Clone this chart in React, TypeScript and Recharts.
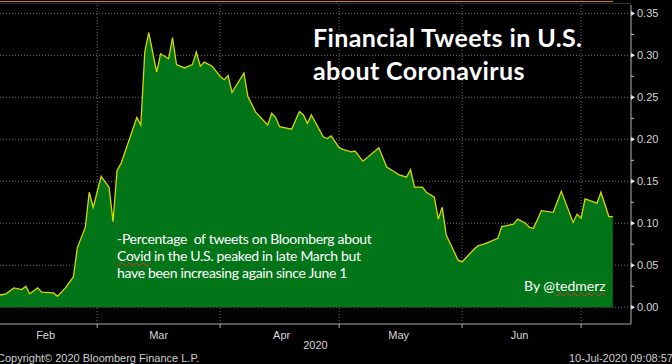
import React from 'react'
import { AreaChart, Area, XAxis, YAxis, CartesianGrid, Label } from 'recharts'

// daily readings (share of financial tweets mentioning Covid)
const dates = [
  '2020-02-05', '2020-02-07', '2020-02-09', '2020-02-11', '2020-02-12', '2020-02-13',
  '2020-02-15', '2020-02-16', '2020-02-19', '2020-02-20', '2020-02-22', '2020-02-24',
  '2020-02-25', '2020-02-27', '2020-02-28', '2020-02-29', '2020-03-02', '2020-03-04',
  '2020-03-05', '2020-03-06', '2020-03-07', '2020-03-11', '2020-03-12', '2020-03-13',
  '2020-03-14', '2020-03-16', '2020-03-17', '2020-03-19', '2020-03-20', '2020-03-21',
  '2020-03-23', '2020-03-25', '2020-03-26', '2020-03-27', '2020-03-28', '2020-03-30',
  '2020-04-01', '2020-04-02', '2020-04-03', '2020-04-04', '2020-04-07', '2020-04-08',
  '2020-04-10', '2020-04-13', '2020-04-14', '2020-04-15', '2020-04-16', '2020-04-19',
  '2020-04-21', '2020-04-22', '2020-04-23', '2020-04-24', '2020-04-27', '2020-04-28',
  '2020-04-29', '2020-05-01', '2020-05-02', '2020-05-04', '2020-05-05', '2020-05-07',
  '2020-05-11', '2020-05-13', '2020-05-15', '2020-05-16', '2020-05-18', '2020-05-19',
  '2020-05-20', '2020-05-22', '2020-05-23', '2020-05-25', '2020-05-26', '2020-05-27',
  '2020-05-28', '2020-05-31', '2020-06-01', '2020-06-02', '2020-06-04', '2020-06-05',
  '2020-06-07', '2020-06-10', '2020-06-11', '2020-06-14', '2020-06-15', '2020-06-17',
  '2020-06-18', '2020-06-19', '2020-06-21', '2020-06-24', '2020-06-26', '2020-06-29',
  '2020-06-30', '2020-07-01', '2020-07-02', '2020-07-05', '2020-07-06', '2020-07-08',
  '2020-07-09',
]
const share = [
  0.014, 0.016, 0.023, 0.021, 0.025, 0.016,
  0.023, 0.018, 0.017, 0.013, 0.023, 0.036,
  0.071, 0.095, 0.137, 0.119, 0.156, 0.143,
  0.102, 0.163, 0.171, 0.226, 0.217, 0.304,
  0.327, 0.28, 0.302, 0.296, 0.321, 0.289,
  0.285, 0.289, 0.304, 0.287, 0.292, 0.287,
  0.275, 0.271, 0.276, 0.256, 0.279, 0.251,
  0.232, 0.217, 0.231, 0.226, 0.215, 0.212,
  0.233, 0.229, 0.219, 0.229, 0.203, 0.201,
  0.204, 0.19, 0.188, 0.185, 0.186, 0.174,
  0.19, 0.167, 0.161, 0.158, 0.155, 0.164,
  0.143, 0.143, 0.137, 0.131, 0.105, 0.119,
  0.086, 0.056, 0.054, 0.059, 0.069, 0.073,
  0.076, 0.082, 0.096, 0.099, 0.105, 0.1,
  0.095, 0.094, 0.115, 0.113, 0.138, 0.101,
  0.111, 0.106, 0.129, 0.124, 0.137, 0.108,
  0.108,
]

// month boundaries (tick marks + vertical grid) and month labels centred in each month
const monthStarts = ['2020-03-01', '2020-04-01', '2020-05-01', '2020-06-01', '2020-07-01']
const monthLabelDates = ['2020-02-17', '2020-03-16T12:00Z', '2020-04-16T12:00Z', '2020-05-16', '2020-06-15T12:00Z']
const monthLabels = ['Feb', 'Mar', 'Apr', 'May', 'Jun']
const xRange = ['2020-02-05T12:00Z', '2020-07-13T14:00Z']

const yMajor = [0, 0.05, 0.1, 0.15, 0.2, 0.25, 0.3, 0.35]
const yMinor = [0.025, 0.075, 0.125, 0.175, 0.225, 0.275, 0.325]

const rows = dates.map((d, i) => ({ t: Date.parse(d), v: share[i] }))
const startTicks = monthStarts.map((d) => Date.parse(d))
const labelTicks = monthLabelDates.map((d) => Date.parse(d))
const domain = xRange.map((d) => Date.parse(d))

const axisText = '#d4d4d4'
const axisFont = '"Liberation Sans", Arial, sans-serif'

// right axis tick: little arrow + label for majors, short dash for minors
const YTick = (props: any) => {
  const { x, y, payload } = props
  const v = payload.value as number
  if (!yMajor.some((m) => Math.abs(m - v) < 1e-9)) {
    return <line x1={x} x2={x + 3} y1={y} y2={y} stroke="#bdbdbd" />
  }
  return (
    <g>
      <polygon points={`${x},${y - 2.5} ${x + 4},${y} ${x},${y + 2.5}`} fill="#e0e0e0" />
      <text x={x + 6} y={y} dy="0.35em" fill={axisText} fontSize={11} fontFamily={axisFont}>
        {v.toFixed(2)}
      </text>
    </g>
  )
}

export default function App() {
  return (
    <div style={{ position: 'relative', width: 672, height: 364, background: '#000', overflow: 'hidden' }}>
      <style>{'body{margin:0;background:#000}'}</style>
      {/* terminal frame line at the top */}
      <div style={{ position: 'absolute', left: 0, top: 1, width: 613, height: 1, background: '#d9822b' }} />
      <div style={{ position: 'absolute', left: 0, top: 3, width: 631, height: 1, background: '#333' }} />

      <AreaChart width={672} height={364} data={rows} margin={{ top: 5, right: 0, bottom: 0, left: 0 }}>
        <CartesianGrid
          horizontalValues={yMajor}
          verticalValues={startTicks}
          stroke="#6b6b6b"
          strokeDasharray="1 2"
        />
        <XAxis
          dataKey="t"
          type="number"
          domain={domain}
          allowDataOverflow
          ticks={startTicks}
          interval={0}
          tickFormatter={() => ''}
          tickSize={4}
          tickMargin={0}
          height={6}
          axisLine={{ stroke: '#a8a8a8' }}
          tickLine={{ stroke: '#a8a8a8' }}
        />
        <XAxis
          xAxisId="lbl"
          dataKey="t"
          type="number"
          domain={domain}
          allowDataOverflow
          ticks={labelTicks}
          interval={0}
          tickFormatter={(t: number) => monthLabels[labelTicks.indexOf(t)] ?? ''}
          tickSize={0}
          tickMargin={1}
          height={34}
          axisLine={false}
          tickLine={false}
          tick={{ fill: axisText, fontSize: 11, fontFamily: axisFont }}
        >
          <Label value="2020" position="insideBottom" offset={15} fill={axisText} fontSize={11} fontFamily={axisFont} />
        </XAxis>
        <YAxis
          orientation="right"
          type="number"
          domain={[-0.02, 0.36]}
          allowDataOverflow
          ticks={[...yMajor, ...yMinor].sort((a, b) => a - b)}
          interval={0}
          width={41}
          tickSize={0}
          tickMargin={0}
          axisLine={{ stroke: '#b0b0b0' }}
          tickLine={false}
          tick={<YTick />}
        />
        <Area
          type="linear"
          dataKey="v"
          stroke="#d8d800"
          strokeWidth={1.3}
          fill="#027518"
          fillOpacity={1}
          isAnimationActive={false}
        />
      </AreaChart>

      {/* annotations pasted on the chart */}
      <div
        style={{
          position: 'absolute', left: 313, top: 21, color: '#fff', fontFamily: 'Lato, sans-serif',
          fontWeight: 700, fontSize: 25, lineHeight: '33px', letterSpacing: 0.4, whiteSpace: 'nowrap',
        }}
      >
        Financial Tweets in U.S.
        <br />
        about Coronavirus
      </div>
      <div
        style={{
          position: 'absolute', left: 117, top: 230, color: '#fff', fontFamily: 'Lato, sans-serif',
          fontSize: 14, lineHeight: '17px', letterSpacing: -0.32, whiteSpace: 'pre',
        }}
      >
        {'-Percentage  of tweets on Bloomberg about\n'}
        <span style={{ textDecoration: 'underline wavy #e03030', textDecorationThickness: 1 }}>Covid</span>
        {' in the U.S. peaked in late March but\nhave been increasing again since June 1'}
      </div>
      <div
        style={{
          position: 'absolute', left: 524, top: 277, color: '#fff', fontFamily: 'Lato, sans-serif',
          fontSize: 14, lineHeight: '17px', whiteSpace: 'nowrap',
        }}
      >
        By @<span style={{ textDecoration: 'underline wavy #e03030', textDecorationThickness: 1 }}>tedmerz</span>
      </div>

      <div style={{ position: 'absolute', left: -3, top: 353, color: '#cfcfcf', fontFamily: axisFont, fontSize: 11, lineHeight: '11px', whiteSpace: 'nowrap' }}>
        Copyright© 2020 Bloomberg Finance L.P.
      </div>
      <div style={{ position: 'absolute', left: 569, top: 353, color: '#cfcfcf', fontFamily: axisFont, fontSize: 11, lineHeight: '11px', whiteSpace: 'nowrap' }}>
        10-Jul-2020 09:08:57
      </div>
    </div>
  )
}
